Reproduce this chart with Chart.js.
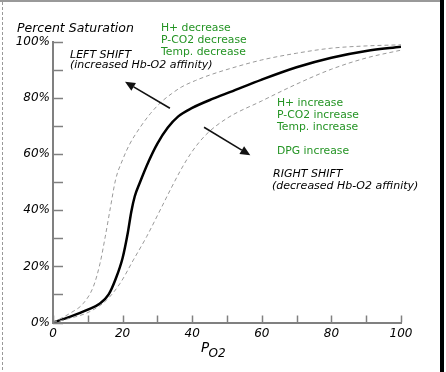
<!DOCTYPE html>
<html>
<head>
<meta charset="utf-8">
<script src="https://cdn.jsdelivr.net/npm/chart.js@4/dist/chart.umd.min.js"></script>
<style>
  html, body { margin: 0; padding: 0; background: #fff; }
  canvas { display: block; }
</style>
</head>
<body>
<canvas id="c" width="446" height="372"></canvas>
<script>
// ---- data ----
const po2Normal = [0, 5, 10, 13.5, 16, 18, 20, 21.5, 22.5, 23.5, 25, 27.5, 30, 33, 36, 40, 46, 51, 60, 70, 80, 90, 100];
const satNormal = [0, 2.1, 4.6, 6.8, 10.0, 15.5, 23.0, 32.0, 39.5, 45.0, 50.0, 57.5, 63.8, 69.5, 73.5, 76.5, 79.8, 82.2, 86.6, 91.0, 94.4, 96.8, 98.3];

const po2Left = [0, 4.9, 8.7, 11.6, 13.5, 15, 16.5, 18, 20, 22, 25, 28, 31, 34, 37, 41, 45, 50, 60, 70, 80, 90, 100];
const satLeft = [0, 3.3, 6.8, 12.8, 21.0, 30.5, 41.0, 51.0, 58.0, 63.5, 69.5, 74.5, 78.5, 81.5, 84.0, 86.3, 88.2, 90.2, 93.6, 96.0, 97.8, 98.6, 99.0];

const po2Right = [0, 4.9, 10.6, 15.4, 19.3, 23.1, 26.9, 30.8, 34, 37, 40, 44, 50, 60, 70, 80, 90, 100];
const satRight = [0, 1.5, 3.9, 8.0, 14.0, 22.3, 30.6, 40.1, 48.0, 55.0, 61.0, 67.0, 72.8, 79.0, 85.0, 90.3, 94.3, 97.1];

const xTickLabels = ['0', '20', '40', '60', '80', '100'];
const yTickLabels = ['0%', '20%', '40%', '60%', '80%', '100%'];

// arrows in data coordinates [po2, saturation]
const arrowLeftShift = [[33.6, 76.4], [20.7, 85.8]];
const arrowRightShift = [[43.4, 69.6], [56.7, 59.6]];

function pts(xs, ys) { return xs.map((x, i) => ({ x: x, y: ys[i] })); }

const GREEN = '#249424';
const AXIS = '#808080';

const decoPlugin = {
  id: 'deco',
  beforeDraw(chart) {
    const ctx = chart.ctx;
    ctx.save();
    ctx.fillStyle = '#fff';
    ctx.fillRect(0, 0, chart.width, chart.height);
    ctx.restore();
  },
  afterDraw(chart) {
    const ctx = chart.ctx;
    const xs = chart.scales.x, ys = chart.scales.y;
    const a = chart.chartArea;
    ctx.save();
    // tick marks (inside)
    ctx.strokeStyle = AXIS;
    ctx.lineWidth = 1.5;
    xs.ticks.forEach(t => {
      const px = Math.round(xs.getPixelForValue(t.value)) + 0.5;
      ctx.beginPath(); ctx.moveTo(px, a.bottom); ctx.lineTo(px, a.bottom - 7); ctx.stroke();
    });
    ys.ticks.forEach(t => {
      const py = Math.round(ys.getPixelForValue(t.value)) + 0.5;
      ctx.beginPath(); ctx.moveTo(a.left, py); ctx.lineTo(a.left + 10, py); ctx.stroke();
    });

    // arrows
    function arrow(seg) {
      const x1 = xs.getPixelForValue(seg[0][0]), y1 = ys.getPixelForValue(seg[0][1]);
      const x2 = xs.getPixelForValue(seg[1][0]), y2 = ys.getPixelForValue(seg[1][1]);
      const ang = Math.atan2(y2 - y1, x2 - x1);
      const hl = 10, hw = 4.5;
      const bx = x2 - hl * Math.cos(ang), by = y2 - hl * Math.sin(ang);
      ctx.strokeStyle = '#111'; ctx.fillStyle = '#111'; ctx.lineWidth = 1.6;
      ctx.beginPath(); ctx.moveTo(x1, y1); ctx.lineTo(bx, by); ctx.stroke();
      ctx.beginPath();
      ctx.moveTo(x2, y2);
      ctx.lineTo(bx + hw * Math.sin(ang), by - hw * Math.cos(ang));
      ctx.lineTo(bx - hw * Math.sin(ang), by + hw * Math.cos(ang));
      ctx.closePath(); ctx.fill();
    }
    arrow(arrowLeftShift);
    arrow(arrowRightShift);

    // texts
    ctx.textBaseline = 'alphabetic';
    ctx.textAlign = 'left';
    ctx.fillStyle = '#000';
    ctx.font = 'italic 12.5px "DejaVu Sans"';
    ctx.fillText('Percent Saturation', 17, 32);

    ctx.font = 'italic 11px "DejaVu Sans"';
    ctx.fillText('LEFT SHIFT', 70, 58);
    ctx.fillText('(increased Hb-O2 affinity)', 70, 67.5);
    ctx.fillText('RIGHT SHIFT', 273, 177);
    ctx.fillText('(decreased Hb-O2 affinity)', 272, 189);

    ctx.fillStyle = GREEN;
    ctx.font = '10.8px "DejaVu Sans"';
    ctx.fillText('H+ decrease', 161, 31);
    ctx.fillText('P-CO2 decrease', 161, 43);
    ctx.fillText('Temp. decrease', 161, 55);
    ctx.fillText('H+ increase', 277, 106);
    ctx.fillText('P-CO2 increase', 277, 118);
    ctx.fillText('Temp. increase', 277, 130);
    ctx.fillText('DPG increase', 277, 154);

    // axis title P_O2
    ctx.fillStyle = '#000';
    ctx.font = 'italic 13.5px "DejaVu Sans"';
    ctx.fillText('P', 201, 352);
    ctx.font = 'italic 12px "DejaVu Sans"';
    ctx.fillText('O2', 208.5, 356.5);

    // frame
    ctx.strokeStyle = '#999';
    ctx.lineWidth = 2;
    ctx.beginPath(); ctx.moveTo(0, 1); ctx.lineTo(440, 1); ctx.stroke();
    ctx.lineWidth = 1;
    ctx.setLineDash([3, 2]);
    ctx.beginPath(); ctx.moveTo(2.5, 2); ctx.lineTo(2.5, chart.height); ctx.stroke();
    ctx.setLineDash([]);
    ctx.fillStyle = '#000';
    ctx.fillRect(440, 0, 4, chart.height);
    ctx.restore();
  }
};

new Chart(document.getElementById('c'), {
  type: 'scatter',
  data: {
    datasets: [
      { data: pts(po2Left, satLeft), showLine: true, borderColor: '#9a9a9a', borderWidth: 1, borderDash: [4, 3], pointRadius: 0, cubicInterpolationMode: 'monotone' },
      { data: pts(po2Right, satRight), showLine: true, borderColor: '#9a9a9a', borderWidth: 1, borderDash: [4, 3], pointRadius: 0, cubicInterpolationMode: 'monotone' },
      { data: pts(po2Normal, satNormal), showLine: true, borderColor: '#000', borderWidth: 2.5, pointRadius: 0, cubicInterpolationMode: 'monotone' }
    ]
  },
  options: {
    responsive: false,
    animation: false,
    layout: { padding: { left: 0, top: 42, right: 45, bottom: 0 } },
    plugins: { legend: { display: false }, tooltip: { enabled: false } },
    scales: {
      x: {
        type: 'linear', min: 0, max: 100,
        grid: { display: false, drawTicks: false },
        border: { display: true, color: AXIS, width: 2 },
        ticks: {
          stepSize: 10, padding: 4, color: '#000',
          font: { family: 'DejaVu Sans', style: 'italic', size: 12 },
          maxRotation: 0, autoSkip: false,
          callback: v => (v % 20 === 0 ? xTickLabels[v / 20] : '')
        },
        afterFit: s => { s.height = 372 - 322.5; }
      },
      y: {
        type: 'linear', min: 0, max: 100,
        grid: { display: false, drawTicks: false },
        border: { display: true, color: AXIS, width: 2 },
        ticks: {
          stepSize: 10, padding: 3, color: '#000',
          font: { family: 'DejaVu Sans', style: 'italic', size: 12 },
          autoSkip: false,
          callback: v => (v % 20 === 0 ? yTickLabels[v / 20] : '')
        },
        afterFit: s => { s.width = 53; }
      }
    }
  },
  plugins: [decoPlugin]
});
</script>
</body>
</html>
